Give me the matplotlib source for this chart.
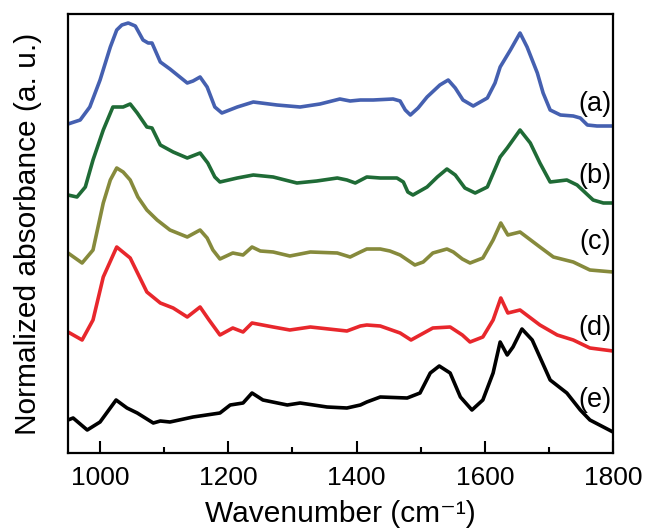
import numpy as np
import matplotlib
matplotlib.use("Agg")
import matplotlib.pyplot as plt

plt.rcParams['font.family'] = ['Liberation Sans', 'DejaVu Sans']

# (a) blue
wn_a = [950, 969, 984, 1000, 1016, 1026, 1034, 1044, 1055, 1067, 1075, 1081, 1094, 1109, 1136, 1145,
        1156, 1167, 1179, 1190, 1214, 1239, 1276, 1312, 1343, 1374, 1390, 1406, 1426, 1457, 1468, 1476,
        1484, 1496, 1510, 1530, 1543, 1554, 1566, 1582, 1604, 1616, 1624, 1640, 1655, 1666, 1682, 1691,
        1702, 1718, 1738, 1749, 1760, 1775, 1800]
ab_a = [3.29, 3.33, 3.46, 3.73, 4.06, 4.23, 4.28, 4.30, 4.27, 4.13, 4.10, 4.10, 3.91, 3.84, 3.70, 3.72,
        3.76, 3.66, 3.46, 3.40, 3.46, 3.51, 3.48, 3.46, 3.49, 3.54, 3.52, 3.53, 3.53, 3.54, 3.52, 3.43,
        3.38, 3.45, 3.56, 3.68, 3.73, 3.65, 3.53, 3.47, 3.55, 3.70, 3.86, 4.03, 4.20, 4.06, 3.80, 3.60,
        3.43, 3.38, 3.37, 3.35, 3.28, 3.27, 3.27]

# (b) green
wn_b = [950, 964, 977, 989, 1005, 1020, 1036, 1047, 1058, 1073, 1081, 1094, 1114, 1136, 1156, 1168,
        1179, 1187, 1214, 1239, 1270, 1307, 1338, 1370, 1385, 1398, 1416, 1437, 1463, 1473, 1480, 1488,
        1510, 1526, 1541, 1554, 1569, 1585, 1604, 1624, 1635, 1655, 1671, 1686, 1702, 1728, 1744, 1769,
        1785, 1800]
ab_b = [2.58, 2.56, 2.66, 2.93, 3.23, 3.46, 3.46, 3.49, 3.40, 3.26, 3.25, 3.08, 3.01, 2.95, 3.00, 2.90,
        2.76, 2.71, 2.75, 2.78, 2.76, 2.70, 2.72, 2.75, 2.73, 2.70, 2.76, 2.75, 2.75, 2.71, 2.61, 2.58,
        2.66, 2.76, 2.84, 2.78, 2.65, 2.60, 2.66, 2.96, 3.05, 3.23, 3.10, 2.90, 2.71, 2.73, 2.68, 2.53,
        2.50, 2.50]

# (c) olive
wn_c = [950, 972, 989, 1005, 1016, 1026, 1036, 1047, 1059, 1073, 1089, 1109, 1136, 1156, 1167, 1176,
        1187, 1207, 1223, 1237, 1250, 1270, 1296, 1328, 1370, 1390, 1406, 1416, 1437, 1452, 1468, 1491,
        1504, 1519, 1541, 1551, 1565, 1577, 1597, 1613, 1625, 1636, 1655, 1686, 1707, 1738, 1764, 1800]
ab_c = [2.00, 1.90, 2.03, 2.50, 2.73, 2.85, 2.81, 2.73, 2.56, 2.43, 2.33, 2.23, 2.16, 2.23, 2.15, 2.03,
        1.94, 2.00, 1.98, 2.06, 2.02, 2.01, 1.97, 2.01, 2.00, 1.96, 2.01, 2.04, 2.04, 2.02, 1.98, 1.88,
        1.91, 2.00, 2.04, 2.01, 1.94, 1.90, 1.95, 2.13, 2.30, 2.18, 2.21, 2.06, 1.96, 1.91, 1.83, 1.81]

# (d) red
wn_d = [950, 972, 989, 1005, 1026, 1047, 1073, 1094, 1114, 1136, 1156, 1170, 1187, 1207, 1223, 1237,
        1270, 1296, 1328, 1385, 1406, 1416, 1437, 1468, 1485, 1519, 1546, 1565, 1577, 1597, 1613, 1625,
        1636, 1655, 1686, 1713, 1738, 1764, 1800]
ab_d = [1.21, 1.13, 1.33, 1.76, 2.06, 1.95, 1.61, 1.50, 1.45, 1.36, 1.46, 1.33, 1.18, 1.25, 1.21, 1.30,
        1.26, 1.23, 1.26, 1.22, 1.27, 1.28, 1.27, 1.20, 1.13, 1.25, 1.26, 1.18, 1.11, 1.16, 1.33, 1.55,
        1.40, 1.43, 1.28, 1.18, 1.13, 1.05, 1.02]

# (e) black
wn_e = [950, 958, 980, 1000, 1025, 1042, 1058, 1083, 1094, 1109, 1145, 1187, 1203, 1223, 1237, 1254,
        1292, 1312, 1354, 1385, 1406, 1416, 1437, 1479, 1499, 1515, 1529, 1546, 1562, 1580, 1597, 1613,
        1624, 1635, 1644, 1658, 1674, 1702, 1728, 1749, 1764, 1800]
ab_e = [0.33, 0.35, 0.23, 0.31, 0.53, 0.45, 0.40, 0.30, 0.32, 0.31, 0.36, 0.40, 0.48, 0.50, 0.60, 0.53,
        0.48, 0.50, 0.46, 0.45, 0.48, 0.51, 0.56, 0.55, 0.60, 0.80, 0.87, 0.80, 0.56, 0.43, 0.53, 0.80,
        1.11, 0.98, 1.06, 1.24, 1.13, 0.73, 0.60, 0.43, 0.33, 0.21]

labels = ['(a)', '(b)', '(c)', '(d)', '(e)']
label_y = [3.49, 2.77, 2.11, 1.25, 0.53]
colors = ['#4560B0', '#1F6B36', '#868A3C', '#E8272C', '#000000']

fig = plt.figure(figsize=(6.46, 5.29), dpi=100)
ax = fig.add_axes([68/646, 1-453/529, (613-68)/646, (453-14)/529])

series = [(wn_a, ab_a), (wn_b, ab_b), (wn_c, ab_c), (wn_d, ab_d), (wn_e, ab_e)]
for (x, y), c in zip(series, colors):
    ax.plot(x, y, color=c, lw=2.6, solid_joinstyle='round', solid_capstyle='round')

for lab, ly in zip(labels, label_y):
    ax.text(1797, ly, lab, ha='right', va='center', fontsize=19.5)

ax.set_xlim(950, 1800)
ax.set_ylim(0, 4.39)
ax.set_xticks([1000, 1200, 1400, 1600, 1800])
ax.set_xticks([1100, 1300, 1500, 1700], minor=True)
ax.set_yticks([])
ax.tick_params(axis='x', which='major', direction='in', length=8.5, width=1.5, labelsize=19, pad=9.5)
ax.tick_params(axis='x', which='minor', direction='in', length=4.3, width=1.5)
for s in ax.spines.values():
    s.set_linewidth(1.6)

fig.text(340.5/646, (529-522)/529, 'Wavenumber (cm\u207b\u00b9)', fontsize=21.5,
         ha='center', va='baseline')
ax.set_ylabel('Normalized absorbance (a. u.)', fontsize=21.5, labelpad=19)

fig.savefig('out.png', dpi=100)
